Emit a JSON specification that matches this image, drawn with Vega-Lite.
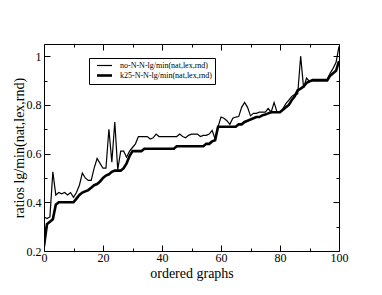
{
  "$schema": "https://vega.github.io/schema/vega-lite/v6.json",
  "width": 295,
  "height": 207,
  "autosize": {"type": "none"},
  "padding": {"left": 44, "top": 44, "right": 43, "bottom": 44},
  "background": "white",
  "config": {
    "font": "Liberation Serif",
    "view": {"stroke": "black", "strokeWidth": 1},
    "axis": {"domain": false, "grid": false, "tickColor": "black", "tickWidth": 1, "labelColor": "black", "titleColor": "black", "labelFont": "Liberation Serif", "titleFont": "Liberation Serif", "labelFontSize": 12, "titleFontSize": 14, "titleFontWeight": "normal"},
    "legend": {"orient": "none", "legendX": 45, "legendY": 14, "strokeColor": "black", "fillColor": "white", "padding": 3, "symbolType": "M-2,0H2", "symbolStrokeColor": "black", "symbolFillColor": "transparent", "symbolSize": 56, "symbolOffset": 7, "labelFont": "Liberation Serif", "labelFontSize": 8, "labelColor": "black", "rowPadding": 0, "labelOffset": 10}
  },
  "data": {"values": [
    {"g":0,"no":0.34,"k25":0.22},{"g":1,"no":0.333,"k25":0.31},{"g":2,"no":0.34,"k25":0.32},{"g":3,"no":0.525,"k25":0.33},{"g":4,"no":0.43,"k25":0.39},
    {"g":5,"no":0.44,"k25":0.40},{"g":6,"no":0.435,"k25":0.40},{"g":7,"no":0.44,"k25":0.40},{"g":8,"no":0.43,"k25":0.40},{"g":9,"no":0.44,"k25":0.40},
    {"g":10,"no":0.42,"k25":0.40},{"g":11,"no":0.44,"k25":0.415},{"g":12,"no":0.47,"k25":0.43},{"g":13,"no":0.52,"k25":0.44},{"g":14,"no":0.50,"k25":0.445},
    {"g":15,"no":0.49,"k25":0.45},{"g":16,"no":0.49,"k25":0.46},{"g":17,"no":0.54,"k25":0.47},{"g":18,"no":0.58,"k25":0.475},{"g":19,"no":0.56,"k25":0.485},
    {"g":20,"no":0.54,"k25":0.50},{"g":21,"no":0.54,"k25":0.51},{"g":22,"no":0.70,"k25":0.515},{"g":23,"no":0.565,"k25":0.525},{"g":24,"no":0.73,"k25":0.53},
    {"g":25,"no":0.534,"k25":0.53},{"g":26,"no":0.61,"k25":0.53},{"g":27,"no":0.61,"k25":0.54},{"g":28,"no":0.585,"k25":0.56},{"g":29,"no":0.61,"k25":0.59},
    {"g":30,"no":0.625,"k25":0.61},{"g":31,"no":0.64,"k25":0.61},{"g":32,"no":0.67,"k25":0.61},{"g":33,"no":0.67,"k25":0.61},{"g":34,"no":0.67,"k25":0.62},
    {"g":35,"no":0.67,"k25":0.62},{"g":36,"no":0.66,"k25":0.62},{"g":37,"no":0.665,"k25":0.62},{"g":38,"no":0.68,"k25":0.62},{"g":39,"no":0.67,"k25":0.62},
    {"g":40,"no":0.67,"k25":0.62},{"g":41,"no":0.67,"k25":0.62},{"g":42,"no":0.67,"k25":0.62},{"g":43,"no":0.67,"k25":0.62},{"g":44,"no":0.67,"k25":0.62},
    {"g":45,"no":0.67,"k25":0.63},{"g":46,"no":0.68,"k25":0.63},{"g":47,"no":0.67,"k25":0.63},{"g":48,"no":0.665,"k25":0.63},{"g":49,"no":0.675,"k25":0.63},
    {"g":50,"no":0.68,"k25":0.63},{"g":51,"no":0.68,"k25":0.63},{"g":52,"no":0.68,"k25":0.63},{"g":53,"no":0.67,"k25":0.63},{"g":54,"no":0.675,"k25":0.63},
    {"g":55,"no":0.675,"k25":0.64},{"g":56,"no":0.68,"k25":0.64},{"g":57,"no":0.695,"k25":0.65},{"g":58,"no":0.66,"k25":0.655},{"g":59,"no":0.71,"k25":0.71},
    {"g":60,"no":0.75,"k25":0.71},{"g":61,"no":0.745,"k25":0.71},{"g":62,"no":0.735,"k25":0.71},{"g":63,"no":0.72,"k25":0.71},{"g":64,"no":0.745,"k25":0.71},
    {"g":65,"no":0.75,"k25":0.71},{"g":66,"no":0.752,"k25":0.72},{"g":67,"no":0.79,"k25":0.72},{"g":68,"no":0.81,"k25":0.73},{"g":69,"no":0.79,"k25":0.735},
    {"g":70,"no":0.755,"k25":0.74},{"g":71,"no":0.765,"k25":0.745},{"g":72,"no":0.765,"k25":0.75},{"g":73,"no":0.77,"k25":0.75},{"g":74,"no":0.77,"k25":0.757},
    {"g":75,"no":0.77,"k25":0.76},{"g":76,"no":0.785,"k25":0.765},{"g":77,"no":0.77,"k25":0.77},{"g":78,"no":0.81,"k25":0.77},{"g":79,"no":0.77,"k25":0.77},
    {"g":80,"no":0.77,"k25":0.77},{"g":81,"no":0.785,"k25":0.78},{"g":82,"no":0.805,"k25":0.79},{"g":83,"no":0.82,"k25":0.80},{"g":84,"no":0.835,"k25":0.82},
    {"g":85,"no":0.843,"k25":0.835},{"g":86,"no":0.845,"k25":0.86},{"g":87,"no":1.0,"k25":0.867},{"g":88,"no":0.87,"k25":0.875},{"g":89,"no":0.91,"k25":0.89},
    {"g":90,"no":0.895,"k25":0.897},{"g":91,"no":0.905,"k25":0.90},{"g":92,"no":0.905,"k25":0.90},{"g":93,"no":0.905,"k25":0.90},{"g":94,"no":0.905,"k25":0.90},
    {"g":95,"no":0.905,"k25":0.90},{"g":96,"no":0.905,"k25":0.90},{"g":97,"no":0.93,"k25":0.92},{"g":98,"no":0.95,"k25":0.93},{"g":99,"no":0.975,"k25":0.94},
    {"g":100,"no":1.04,"k25":0.98}
  ]},
  "transform": [{"fold": ["no", "k25"], "as": ["series", "ratio"]}],
  "resolve": {"axis": {"x": "independent", "y": "independent"}},
  "layer": [
    {
      "mark": {"type": "line", "color": "black", "clip": true},
      "encoding": {
        "x": {"field": "g", "type": "quantitative", "scale": {"domain": [0, 100], "nice": false, "zero": false},
          "axis": {"orient": "bottom", "title": "ordered graphs", "titleFont": "Liberation Serif", "labelFont": "Liberation Serif", "titleFontSize": 14, "titleFontWeight": "normal", "values": [0,10,20,30,40,50,60,70,80,90,100],
            "labelExpr": "datum.value % 20 == 0 ? datum.label : ''",
            "tickSize": {"condition": {"test": "datum.value % 20 == 0", "value": -6}, "value": -3},
            "labelPadding": 7, "titlePadding": 3, "labelFlush": false}},
        "y": {"field": "ratio", "type": "quantitative", "scale": {"domain": [0.2, 1.05], "nice": false, "zero": false},
          "axis": {"orient": "left", "title": "ratios lg/min(nat,lex,rnd)", "titleFont": "Liberation Serif", "labelFont": "Liberation Serif", "titleFontSize": 14, "titleFontWeight": "normal", "values": [0.2,0.3,0.4,0.5,0.6,0.7,0.8,0.9,1.0],
            "format": "~g",
            "labelExpr": "round(datum.value*10) % 2 == 0 ? datum.label : ''",
            "tickSize": {"condition": {"test": "round(datum.value*10) % 2 == 0", "value": -6}, "value": -3},
            "labelPadding": 9, "titlePadding": 0, "labelFlush": false}},
        "detail": {"field": "series"},
        "strokeWidth": {"field": "series", "type": "nominal", "scale": {"domain": ["no", "k25"], "range": [1.2, 2.6]},
          "legend": {"title": null, "labelFont": "Liberation Serif", "labelExpr": "datum.label == 'no' ? 'no-N-N-lg/min(nat,lex,rnd)' : 'k25-N-N-lg/min(nat,lex,rnd)'"}}
      }
    },
    {
      "mark": {"type": "line", "opacity": 0},
      "encoding": {
        "x": {"field": "g", "type": "quantitative",
          "axis": {"orient": "top", "title": null, "labels": false, "values": [0,10,20,30,40,50,60,70,80,90,100],
            "tickSize": {"condition": {"test": "datum.value % 20 == 0", "value": -6}, "value": -3}}},
        "y": {"field": "ratio", "type": "quantitative",
          "axis": {"orient": "right", "title": null, "labels": false, "values": [0.2,0.3,0.4,0.5,0.6,0.7,0.8,0.9,1.0],
            "tickSize": {"condition": {"test": "round(datum.value*10) % 2 == 0", "value": -6}, "value": -3}}},
        "detail": {"field": "series"}
      }
    }
  ]
}
